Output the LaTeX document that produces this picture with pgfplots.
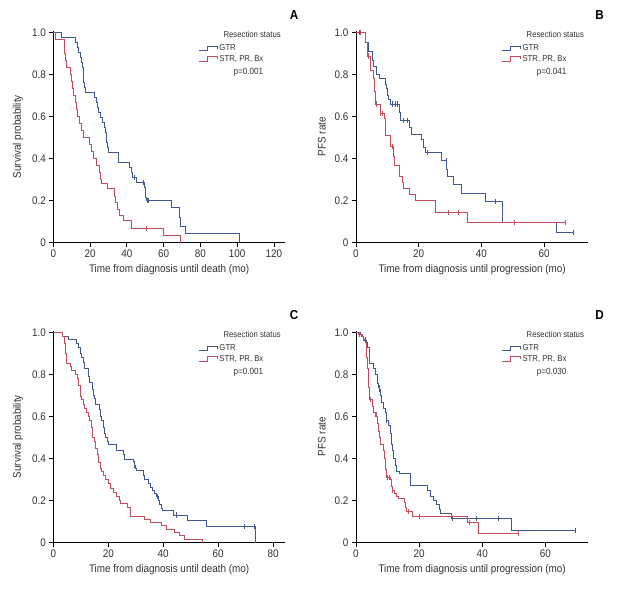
\documentclass[border=0pt]{standalone}
\usepackage{fontspec}
\setmainfont{Liberation Sans}[FakeStretch=0.9]
\usepackage{pgfplots}
\pgfplotsset{compat=1.18}
\definecolor{gtr}{RGB}{66,88,150}
\definecolor{str}{RGB}{194,76,92}
\definecolor{txt}{RGB}{50,50,50}
\pgfplotsset{
  km/.style={
    scale only axis, anchor=south west,
    height=212.1pt,
    axis x line=bottom, axis y line=left,
    axis line style={line width=0.9pt,-,black},
    tick align=outside, major tick length=4pt,
    tick style={line width=0.8pt,black},
    ymin=0, ymax=1.01, xmin=0,
    ytick={0,0.2,0.4,0.6,0.8,1},
    yticklabels={0,0.2,0.4,0.6,0.8,1.0},
    ticklabel style={font=\fontsize{11}{13}\selectfont, text=txt},
    label style={font=\fontsize{11}{13}\selectfont, text=txt},
    ylabel style={at={(axis description cs:-0.1295,0.5)}, anchor=south, inner sep=0pt},
    xlabel style={at={(axis description cs:0.5,0)}, anchor=center, yshift=-27pt},
    legend style={draw=none, fill=none, font=\fontsize{8.6}{10}\selectfont, text=txt,
      at={(axis description cs:0.624,0.892)}, anchor=west, inner sep=0pt,
      row sep=0pt, nodes={inner sep=1.5pt}},
    legend cell align=left,
    legend image code/.code={\draw[##1,line width=0.9pt] (0pt,-2.2pt) -- (9pt,-2.2pt) -- (9pt,2.2pt) -- (19pt,2.2pt) -- (19pt,-0.4pt);},
  },
  cg/.style={gtr, line width=0.9pt, const plot, mark=none},
  cs/.style={str, line width=0.9pt, const plot, mark=none},
  mg/.style={gtr, only marks, mark=|, mark size=2.6pt, mark options={line width=0.7pt}, forget plot},
  ms/.style={str, only marks, mark=|, mark size=2.6pt, mark options={line width=0.7pt}, forget plot},
}
\newcommand{\legtext}[1]{%
  \node[anchor=west, font=\fontsize{8.6}{10}\selectfont, text=txt, inner sep=0pt] at (axis description cs:0.734,0.98) {Resection status};
  \node[anchor=center, font=\fontsize{9}{10}\selectfont, text=txt, inner sep=0pt] at (axis description cs:0.842,0.805) {#1};
}
\begin{document}
\begin{tikzpicture}[x=1pt,y=1pt]
\path[use as bounding box] (0,0) rectangle (633,589);

% ---------------- A ----------------
\begin{axis}[km, at={(53.3pt,346.3pt)}, width=231.7pt, xmax=126,
  xtick={0,20,40,60,80,100,120}, xticklabels={0,20,40,60,80,100,120},
  xlabel={Time from diagnosis until death (mo)}, ylabel={Survival probability}]
\addplot[cg] coordinates {(0,1.0) (4.7,0.976) (12.3,0.952) (13.2,0.929) (13.8,0.905) (14.5,0.881) (15.2,0.857) (15.8,0.833) (16.2,0.786) (16.6,0.762) (17.0,0.738) (17.4,0.714) (22.6,0.690) (23.3,0.667) (24.2,0.643) (24.8,0.619) (25.4,0.595) (26.5,0.571) (27.9,0.548) (28.3,0.524) (28.7,0.500) (29.1,0.476) (29.5,0.452) (29.9,0.429) (35.5,0.381) (41.6,0.357) (42.3,0.333) (43.1,0.310) (45.3,0.286) (49.4,0.262) (49.9,0.238) (50.3,0.214) (50.7,0.202) (64.0,0.168) (68.6,0.12) (69.2,0.076) (71.6,0.045) (101.1,0)};
\addlegendentry{GTR}
\addplot[cs] coordinates {(0,1) (1.4,0.967) (5.8,0.933) (6.3,0.90) (6.8,0.867) (7.2,0.833) (9.4,0.80) (9.9,0.767) (10.5,0.733) (11.2,0.70) (11.8,0.667) (12.4,0.633) (13.4,0.60) (14.3,0.567) (15.2,0.533) (16.5,0.50) (19.9,0.467) (20.9,0.433) (21.8,0.40) (23.2,0.367) (25.0,0.333) (25.7,0.30) (26.3,0.28) (29.3,0.257) (33.0,0.22) (33.8,0.19) (34.8,0.157) (35.8,0.13) (38.4,0.107) (42.6,0.067) (60.1,0.033) (69.4,0)};
\addlegendentry{STR, PR, Bx}
\addplot[mg] coordinates {(44.0,0.310) (49.0,0.286) (51.2,0.202) (51.6,0.202)};
\addplot[ms] coordinates {(50.7,0.067)};
\legtext{p=0.001}
\end{axis}

% ---------------- B ----------------
\begin{axis}[km, at={(356pt,346.3pt)}, width=232.3pt, xmax=74.1,
  xtick={0,20,40,60}, xticklabels={0,20,40,60},
  xlabel={Time from diagnosis until progression (mo)}, ylabel={PFS rate}]
\addplot[cg] coordinates {(0,1) (2.9,0.955) (3.9,0.91) (5.2,0.87) (5.7,0.84) (6.6,0.80) (7.5,0.78) (9.3,0.755) (9.8,0.733) (10.1,0.70) (10.5,0.68) (10.9,0.66) (13.8,0.62) (14.2,0.58) (16.9,0.55) (17.6,0.517) (21.0,0.49) (21.4,0.455) (22.1,0.428) (27.1,0.39) (29.0,0.35) (29.3,0.314) (31.2,0.275) (33.7,0.235) (41.4,0.195) (46.8,0.098) (63.8,0.049) (69.4,0.049)};
\addlegendentry{GTR}
\addplot[cs] coordinates {(0,1) (2.9,0.955) (3.5,0.889) (4.5,0.822) (5.7,0.78) (5.9,0.72) (6.2,0.66) (7.7,0.616) (9.0,0.59) (9.3,0.511) (11.1,0.457) (12.1,0.41) (12.4,0.37) (13.8,0.314) (14.9,0.285) (15.1,0.26) (16.9,0.23) (19.1,0.203) (25.4,0.144) (35.7,0.098) (66.7,0.098)};
\addlegendentry{STR, PR, Bx}
\addplot[mg] coordinates {(1.0,1.0) (11.5,0.66) (12.5,0.66) (13.3,0.66) (15.1,0.58) (16.5,0.58) (22.7,0.428) (28.7,0.39) (44.6,0.195) (69.4,0.049)};
\addplot[ms] coordinates {(1.5,1) (4.0,0.889) (6.5,0.66) (7.7,0.616) (8.3,0.616) (11.5,0.457) (29.5,0.144) (32.7,0.144) (50.5,0.098) (66.7,0.098)};
\legtext{p=0.041}
\end{axis}

% ---------------- C ----------------
\begin{axis}[km, at={(53.3pt,46.3pt)}, width=231.7pt, xmax=84.3,
  xtick={0,20,40,60,80}, xticklabels={0,20,40,60,80},
  xlabel={Time from diagnosis until death (mo)}, ylabel={Survival probability}]
\addplot[cg] coordinates {(0,1) (3.4,0.984) (5.6,0.967) (8.5,0.95) (9.1,0.93) (9.7,0.90) (10.3,0.88) (10.9,0.86) (11.5,0.83) (12.7,0.79) (13.1,0.762) (14.2,0.73) (14.5,0.70) (14.8,0.687) (15.5,0.66) (16.7,0.635) (17.2,0.60) (17.6,0.58) (18.2,0.55) (18.5,0.52) (18.9,0.50) (19.8,0.48) (20.2,0.468) (22.8,0.45) (23.0,0.441) (25.7,0.42) (25.8,0.397) (29.1,0.385) (29.5,0.37) (30.0,0.355) (30.3,0.343) (32.9,0.32) (33.3,0.30) (34.5,0.28) (35.4,0.265) (36.1,0.25) (36.7,0.235) (37.6,0.22) (38.2,0.20) (38.8,0.18) (39.2,0.165) (39.8,0.152) (43.6,0.132) (48.9,0.108) (55.6,0.076) (73.4,0)};
\addlegendentry{GTR}
\addplot[cs] coordinates {(0,1) (3.4,0.984) (4.2,0.95) (4.5,0.90) (4.8,0.854) (6.3,0.84) (6.7,0.82) (8.2,0.80) (8.7,0.78) (9.1,0.75) (9.7,0.695) (10.3,0.68) (10.9,0.66) (11.5,0.64) (12.1,0.62) (12.7,0.60) (13.3,0.58) (13.7,0.55) (14.2,0.50) (14.9,0.48) (15.4,0.45) (16.0,0.42) (16.5,0.38) (17.0,0.355) (17.6,0.34) (18.2,0.32) (18.8,0.30) (20.0,0.28) (20.8,0.26) (21.8,0.24) (22.8,0.22) (24.0,0.20) (24.3,0.187) (26.9,0.168) (27.9,0.124) (33.2,0.11) (35.4,0.095) (39.3,0.08) (41.1,0.065) (44.1,0.05) (45.9,0.033) (47.7,0.016) (54.1,0)};
\addlegendentry{STR, PR, Bx}
\addplot[mg] coordinates {(29.5,0.37) (38.0,0.22) (44.7,0.132) (69.5,0.076) (73.1,0.076)};
\legtext{p=0.001}
\end{axis}

% ---------------- D ----------------
\begin{axis}[km, at={(356pt,46.3pt)}, width=232.3pt, xmax=73.6,
  xtick={0,20,40,60}, xticklabels={0,20,40,60},
  xlabel={Time from diagnosis until progression (mo)}, ylabel={PFS rate}]
\addplot[cg] coordinates {(0,1) (1.3,0.99) (1.8,0.98) (2.4,0.965) (3.4,0.955) (3.7,0.93) (4.2,0.855) (5.5,0.83) (6.1,0.80) (6.8,0.76) (7.0,0.75) (7.4,0.73) (7.8,0.70) (8.1,0.67) (8.7,0.64) (9.2,0.62) (9.7,0.58) (10.3,0.56) (10.8,0.52) (11.1,0.47) (11.6,0.44) (12.0,0.40) (12.4,0.37) (12.9,0.34) (13.7,0.33) (17.1,0.271) (22.6,0.25) (23.5,0.22) (24.5,0.20) (25.6,0.18) (26.4,0.16) (26.9,0.137) (30.1,0.116) (49.3,0.057) (69.6,0.057)};
\addlegendentry{GTR}
\addplot[cs] coordinates {(0,1) (0.8,0.99) (2.1,0.98) (2.5,0.97) (2.9,0.955) (3.2,0.93) (3.4,0.88) (3.6,0.83) (3.9,0.78) (4.1,0.74) (4.2,0.70) (4.4,0.68) (5.2,0.65) (5.5,0.62) (6.3,0.60) (6.8,0.57) (7.1,0.53) (7.4,0.50) (7.8,0.47) (8.7,0.44) (9.0,0.40) (9.3,0.35) (9.7,0.31) (10.8,0.30) (11.3,0.27) (11.6,0.25) (12.1,0.235) (12.7,0.22) (13.4,0.21) (15.3,0.19) (15.8,0.17) (16.1,0.148) (17.9,0.124) (35.4,0.095) (38.8,0.044) (51.5,0.044)};
\addlegendentry{STR, PR, Bx}
\addplot[mg] coordinates {(3.0,0.965) (7.0,0.75) (7.4,0.73) (9.7,0.58) (30.4,0.116) (38.2,0.116) (45.1,0.116) (69.6,0.057)};
\addplot[ms] coordinates {(1.0,0.99) (4.4,0.68) (6.0,0.61) (6.5,0.61) (10.0,0.31) (10.5,0.31) (11.6,0.25) (16.6,0.148) (20.1,0.124) (35.9,0.095) (51.5,0.044)};
\legtext{p=0.030}
\end{axis}

\node[font=\bfseries\fontsize{13}{14}\selectfont, anchor=center] at (294,573.7) {A};
\node[font=\bfseries\fontsize{13}{14}\selectfont, anchor=center] at (599.7,573.7) {B};
\node[font=\bfseries\fontsize{13}{14}\selectfont, anchor=center] at (294,274.3) {C};
\node[font=\bfseries\fontsize{13}{14}\selectfont, anchor=center] at (599.7,274.3) {D};
\end{tikzpicture}
\end{document}
